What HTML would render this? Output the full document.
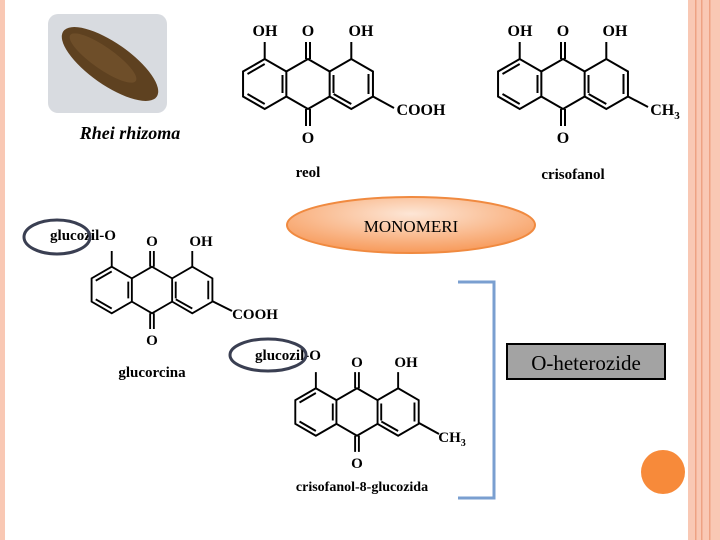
<!DOCTYPE html>
<html><head><style>
body{margin:0;width:720px;height:540px;background:#fff;overflow:hidden;position:relative;font-family:"Liberation Serif",serif}
svg{position:absolute;left:0;top:0}
</style></head><body>
<svg width="720" height="540" viewBox="0 0 720 540" font-family="Liberation Serif, serif">
<defs>
<radialGradient id="g" cx="50%" cy="30%" r="70%">
<stop offset="0" stop-color="#fde6d6"/><stop offset="1" stop-color="#f79a5a"/></radialGradient>
<g id="aq" stroke="#000" stroke-width="2" fill="none">
<path d="M0,-25 L21.65,-12.5 L21.65,12.5 L0,25 L-21.65,12.5 L-21.65,-12.5 Z"/>
<path d="M-21.65,-12.5 L-43.3,-25 L-64.95,-12.5 L-64.95,12.5 L-43.3,25 L-21.65,12.5"/>
<path d="M-25.5,-9 L-25.5,9 M-43.3,-20 L-60.5,-10 M-43.3,20 L-60.5,10" />
<path d="M21.65,-12.5 L43.3,-25 L64.95,-12.5 L64.95,12.5 L43.3,25 L21.65,12.5"/>
<path d="M25.5,-9 L25.5,9 M60.5,-10 L60.5,10 M43.3,20 L25.6,10"/>
<path d="M-2,-25 L-2,-42 M2,-25 L2,-42 M-2,25 L-2,42 M2,25 L2,42"/>
<path d="M-43.3,-25 L-43.3,-42 M43.3,-25 L43.3,-42"/>
</g>
</defs>

<rect x="0" y="0" width="5" height="540" fill="#f9c8b4"/>
<rect x="688" y="0" width="32" height="540" fill="#f9c8b4"/>
<rect x="695" y="0" width="1.5" height="540" fill="#eea283"/>
<rect x="701" y="0" width="1.5" height="540" fill="#eea283"/>
<rect x="709" y="0" width="1.5" height="540" fill="#eea283"/>

<rect x="48" y="14" width="119" height="99" rx="10" fill="#d8dbe0"/>
<ellipse cx="110" cy="64" rx="57" ry="21" transform="rotate(35 110 64)" fill="#5e4120"/>
<ellipse cx="103" cy="58" rx="40" ry="11" transform="rotate(35 103 58)" fill="#7a5630" opacity="0.6"/>
<text x="130" y="139" font-size="18" font-style="italic" font-weight="bold" text-anchor="middle">Rhei rhizoma</text>

<g font-weight="bold" font-size="16" text-anchor="middle">
<use href="#aq" transform="translate(308,84)"/>
<text x="265" y="36">OH</text><text x="308" y="36">O</text><text x="361" y="36">OH</text>
<text x="308" y="143">O</text>
<line x1="373" y1="96.5" x2="394" y2="108" stroke="#000" stroke-width="2"/>
<text x="421" y="115">COOH</text>
<text x="308" y="177" font-size="15">reol</text>

<use href="#aq" transform="translate(563,84)"/>
<text x="520" y="36">OH</text><text x="563" y="36">O</text><text x="615" y="36">OH</text>
<text x="563" y="143">O</text>
<line x1="628" y1="96.5" x2="648" y2="107" stroke="#000" stroke-width="2"/>
<text x="665" y="115">CH<tspan font-size="11" dy="4">3</tspan></text>
<text x="573" y="179" font-size="15">crisofanol</text>
</g>

<g font-size="15" text-anchor="middle" font-weight="bold">
<use href="#aq" transform="translate(152,290) scale(0.93)"/>
<text x="50" y="240" text-anchor="start" textLength="66" lengthAdjust="spacingAndGlyphs">glucozil-O</text><text x="152" y="246">O</text><text x="201" y="246">OH</text>
<text x="152" y="345">O</text>
<line x1="212" y1="301" x2="232" y2="311" stroke="#000" stroke-width="2"/>
<text x="255" y="319">COOH</text>
<text x="152" y="377">glucorcina</text>

<use href="#aq" transform="translate(357,412) scale(0.95)"/>
<text x="255" y="360" text-anchor="start" textLength="66" lengthAdjust="spacingAndGlyphs">glucozil-O</text><text x="357" y="367">O</text><text x="406" y="367">OH</text>
<text x="357" y="468">O</text>
<line x1="419" y1="423" x2="439" y2="434" stroke="#000" stroke-width="2"/>
<text x="452" y="442">CH<tspan font-size="10" dy="4">3</tspan></text>
<text x="362" y="491" font-size="14">crisofanol-8-glucozida</text>
</g>

<ellipse cx="57" cy="237" rx="33" ry="17" fill="none" stroke="#3a3f52" stroke-width="3"/>
<ellipse cx="268" cy="355" rx="38" ry="16" fill="none" stroke="#3a3f52" stroke-width="3"/>

<ellipse cx="411" cy="225" rx="124" ry="28" fill="url(#g)" stroke="#f08a40" stroke-width="2"/>
<text x="411" y="232" font-size="17" text-anchor="middle">MONOMERI</text>

<path d="M458,282 L494,282 L494,498 L458,498" fill="none" stroke="#7a9fd0" stroke-width="3"/>

<rect x="507" y="344" width="158" height="35" fill="#a3a3a3" stroke="#000" stroke-width="2"/>
<text x="586" y="370" font-size="21" text-anchor="middle">O-heterozide</text>

<circle cx="663" cy="472" r="22" fill="#f78a3a"/>
</svg>
</body></html>
